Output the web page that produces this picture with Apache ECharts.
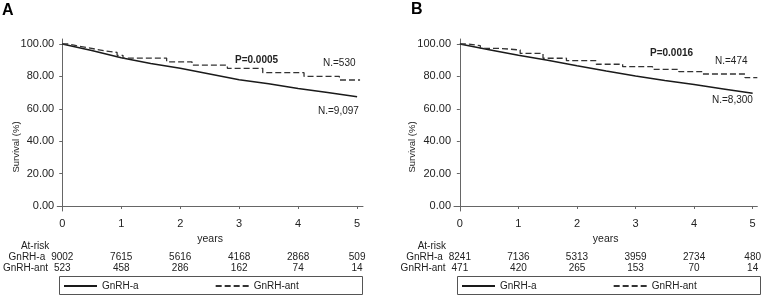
<!DOCTYPE html>
<html>
<head>
<meta charset="utf-8">
<script src="https://cdn.jsdelivr.net/npm/echarts@6/dist/echarts.min.js"></script>
<style>
  html, body { margin: 0; padding: 0; background: #fff; }
  #chart { width: 764px; height: 295px; }
</style>
</head>
<body>
<div id="chart"></div>
<script>
let chart = echarts.init(document.getElementById("chart"));

// years on the x axis
let years = [0, 1, 2, 3, 4, 5];
let yTicks = [0, 20, 40, 60, 80, 100];

// panel A curves (years, survival %)
let solidA = [[0,100],[0.5,96],[1,91.5],[1.5,88],[2,85],[2.5,81.5],[3,78],[3.5,75.5],[4,72.5],[4.5,70],[5,67.5]];
let dashedA = [[0,100],[0.1,99.3],[0.2,98.5],[0.3,97.6],[0.45,96.6],[0.6,95.6],[0.75,94.8],[0.93,93],[1.03,91.3],
  [1.77,89],[2.2,87],[2.8,85],[3.4,82.3],[4.1,80],[4.7,77.8],[5.05,77.8]];
// panel B curves
let solidB = [[0,100],[0.5,96.5],[1,93],[1.5,90],[2,86.6],[2.5,83.3],[3,80.2],[3.5,77.5],[4,75],[4.5,72.3],[5,69.6]];
let dashedB = [[0,100],[0.15,99],[0.35,97.3],[0.69,96.3],[1.03,94.2],[1.42,91.2],[1.82,89.7],[2.33,87.5],
  [2.78,86],[3.29,84.4],[3.74,82.9],[4.14,81.5],[4.87,79.2],[5.08,79.2]];

// numbers at risk
let riskA_a = [9002, 7615, 5616, 4168, 2868, 509];
let riskA_ant = [523, 458, 286, 162, 74, 14];
let riskB_a = [8241, 7136, 5313, 3959, 2734, 480];
let riskB_ant = [471, 420, 265, 153, 70, 14];

let font = "Liberation Sans, Arial, sans-serif";
let txt = '#222';
let axisCol = '#666';

function mainX(grid, min, max) {
  return {
    type: 'value', gridIndex: grid, min: min, max: max,
    name: 'years', nameLocation: 'middle', nameGap: 18,
    nameTextStyle: { fontFamily: font, fontSize: 10.5, color: txt },
    axisLine: { lineStyle: { color: axisCol } },
    axisTick: { customValues: years, length: 3, lineStyle: { color: axisCol } },
    axisLabel: { customValues: years, margin: 7, fontFamily: font, fontSize: 11, color: txt },
    splitLine: { show: false }
  };
}

function riskX(grid, min, max, offset, name, data) {
  return {
    type: 'value', gridIndex: grid, min: min, max: max, offset: offset, position: 'bottom',
    name: name, nameLocation: 'start', nameGap: 8,
    nameTextStyle: { fontFamily: font, fontSize: 10, color: txt, verticalAlign: 'middle' },
    axisLine: { show: false }, axisTick: { show: false }, splitLine: { show: false },
    axisLabel: {
      show: data != null, customValues: years, margin: 0, verticalAlign: 'middle',
      fontFamily: font, fontSize: 10, color: txt,
      formatter: function (v) { return data ? String(data[Math.round(v)]) : ''; }
    }
  };
}

function yAx(grid) {
  return {
    type: 'value', gridIndex: grid, min: -3.1, max: 103.1,
    axisLine: { show: true, lineStyle: { color: axisCol } },
    axisTick: { show: true, customValues: yTicks, length: 3, lineStyle: { color: axisCol } },
    axisLabel: { customValues: yTicks, margin: 3, fontFamily: font, fontSize: 11, color: txt,
      formatter: function (v) { return v.toFixed(2); } },
    splitLine: { show: false }
  };
}

function curve(name, x, y, data, dashed) {
  return {
    name: name, type: 'line', xAxisIndex: x, yAxisIndex: y, data: data,
    symbol: 'none', step: dashed ? 'end' : false, silent: true,
    itemStyle: { color: '#222' },
    lineStyle: dashed ? { color: '#333', width: 1.3, type: [6, 3] } : { color: '#1a1a1a', width: 1.5 }
  };
}

function legendAt(left) {
  return {
    left: left, top: 281, padding: 0, itemWidth: 33, itemHeight: 10, itemGap: 76,
    data: ['GnRH-a', 'GnRH-ant'], selectedMode: false,
    itemStyle: { color: 'rgba(0,0,0,0)', borderWidth: 0, borderColor: 'rgba(0,0,0,0)' },
    textStyle: { fontFamily: font, fontSize: 10, color: txt }
  };
}

function label(x, y, text, bold) {
  return { type: 'text', x: x, y: y, style: { text: text, fill: txt, font: (bold ? 'bold ' : '') + '10px ' + font, textVerticalAlign: 'middle' } };
}

let option = {
  animation: false,
  title: [
    { text: 'A', left: 2, top: 3, padding: 0, textStyle: { fontFamily: font, fontSize: 16, fontWeight: 'bold', color: '#000' } },
    { text: 'B', left: 411, top: 2, padding: 0, textStyle: { fontFamily: font, fontSize: 16, fontWeight: 'bold', color: '#000' } }
  ],
  grid: [
    { left: 57, top: 39, width: 306, height: 172 },
    { left: 454, top: 39, width: 306, height: 172 }
  ],
  xAxis: [
    mainX(0, -0.085, 5.1),
    riskX(0, -0.085, 5.1, 35, 'At-risk', null),
    riskX(0, -0.085, 5.1, 46, 'GnRH-a', riskA_a),
    riskX(0, -0.085, 5.1, 57, 'GnRH-ant', riskA_ant),
    mainX(1, -0.1, 5.08),
    riskX(1, -0.1, 5.08, 35, 'At-risk', null),
    riskX(1, -0.1, 5.08, 46, 'GnRH-a', riskB_a),
    riskX(1, -0.1, 5.08, 57, 'GnRH-ant', riskB_ant)
  ],
  yAxis: [yAx(0), yAx(1)],
  legend: [legendAt(63), legendAt(461)],
  series: [
    curve('GnRH-a', 0, 0, solidA, false),
    curve('GnRH-ant', 0, 0, dashedA, true),
    curve('GnRH-a', 4, 1, solidB, false),
    curve('GnRH-ant', 4, 1, dashedB, true)
  ],
  graphic: [
    { type: 'text', x: 16, y: 147, rotation: Math.PI / 2, style: { text: 'Survival (%)', fill: txt, font: '9.5px ' + font, textAlign: 'center', textVerticalAlign: 'middle' } },
    { type: 'text', x: 412, y: 147, rotation: Math.PI / 2, style: { text: 'Survival (%)', fill: txt, font: '9.5px ' + font, textAlign: 'center', textVerticalAlign: 'middle' } },
    label(235, 60, 'P=0.0005', true),
    label(323, 63, 'N.=530', false),
    label(318, 111, 'N.=9,097', false),
    label(650, 53, 'P=0.0016', true),
    label(715, 61, 'N.=474', false),
    label(712, 100, 'N.=8,300', false),
    { type: 'rect', shape: { x: 59.5, y: 276.5, width: 303, height: 18 }, style: { fill: 'none', stroke: '#555', lineWidth: 1 } },
    { type: 'rect', shape: { x: 457.5, y: 276.5, width: 303, height: 18 }, style: { fill: 'none', stroke: '#555', lineWidth: 1 } }
  ]
};

chart.setOption(option);
</script>
</body>
</html>
